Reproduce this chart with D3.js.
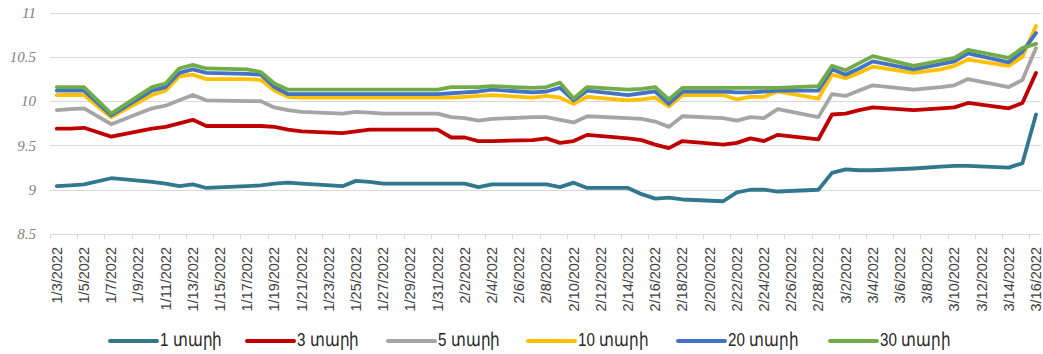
<!DOCTYPE html>
<html>
<head>
<meta charset="utf-8">
<script src="https://cdn.jsdelivr.net/npm/d3@7"></script>
<style>
    body { margin: 0; background: #fff; }
    #chart { width: 1043px; height: 354px; }
</style>
</head>
<body>
<div id="chart"></div>
<script>

// trading days (m/d, 2022)
const dates = ['1/3','1/4','1/5','1/7','1/10','1/11','1/12','1/13','1/14','1/17','1/18','1/19','1/20','1/21',
    '1/24','1/25','1/26','1/27','1/28','1/31','2/1','2/2','2/3','2/4','2/7','2/8','2/9','2/10','2/11',
    '2/14','2/15','2/16','2/17','2/18','2/21','2/22','2/23','2/24','2/25','2/28','3/1','3/2','3/3','3/4',
    '3/7','3/9','3/10','3/11','3/14','3/15','3/16'];

const y1 = [9.04,9.05,9.06,9.13,9.09,9.07,9.04,9.06,9.02,9.04,9.05,9.07,9.08,9.07,
    9.04,9.10,9.09,9.07,9.07,9.07,9.07,9.07,9.03,9.06,9.06,9.06,9.03,9.08,9.02,
    9.02,8.95,8.90,8.91,8.89,8.87,8.97,9.00,9.00,8.98,9.00,9.19,9.23,9.22,9.22,
    9.24,9.26,9.27,9.27,9.25,9.30,9.85];

const y3 = [9.69,9.69,9.70,9.60,9.69,9.71,9.75,9.79,9.72,9.72,9.72,9.71,9.68,9.66,
    9.64,9.66,9.68,9.68,9.68,9.68,9.59,9.59,9.55,9.55,9.56,9.58,9.53,9.55,9.62,
    9.58,9.56,9.51,9.47,9.55,9.51,9.53,9.58,9.55,9.62,9.57,9.85,9.86,9.90,9.93,
    9.90,9.92,9.93,9.98,9.92,9.98,10.32];

const y5 = [9.90,9.91,9.92,9.74,9.92,9.95,10.01,10.07,10.01,10.00,10.00,9.93,9.90,9.88,
    9.86,9.88,9.87,9.86,9.86,9.86,9.82,9.81,9.78,9.80,9.82,9.82,9.79,9.76,9.83,
    9.81,9.80,9.77,9.71,9.83,9.81,9.78,9.82,9.81,9.91,9.82,10.08,10.06,10.12,10.18,
    10.13,10.16,10.18,10.25,10.16,10.24,10.60];

const y10 = [10.07,10.07,10.07,9.82,10.07,10.12,10.28,10.30,10.25,10.25,10.24,10.12,10.05,10.04,
    10.04,10.04,10.04,10.04,10.04,10.04,10.04,10.05,10.06,10.07,10.04,10.06,10.04,9.97,10.05,
    10.01,10.02,10.04,9.94,10.07,10.07,10.02,10.05,10.05,10.11,10.03,10.30,10.26,10.32,10.39,
    10.32,10.36,10.40,10.47,10.40,10.50,10.85];

const y20 = [10.12,10.12,10.12,9.84,10.12,10.16,10.32,10.36,10.32,10.31,10.30,10.16,10.08,10.08,
    10.08,10.08,10.08,10.08,10.08,10.08,10.09,10.10,10.11,10.13,10.10,10.11,10.15,10.01,10.12,
    10.07,10.09,10.11,9.97,10.11,10.11,10.10,10.10,10.11,10.12,10.12,10.36,10.30,10.37,10.45,
    10.36,10.42,10.45,10.54,10.44,10.56,10.77];

const y30 = [10.16,10.16,10.16,9.86,10.16,10.20,10.37,10.41,10.37,10.36,10.33,10.20,10.13,10.13,
    10.13,10.13,10.13,10.13,10.13,10.13,10.16,10.16,10.16,10.17,10.15,10.16,10.21,10.03,10.16,
    10.13,10.14,10.16,10.02,10.15,10.15,10.15,10.15,10.15,10.15,10.17,10.40,10.35,10.43,10.51,
    10.40,10.46,10.49,10.58,10.49,10.60,10.65];

const seriesNames = ['1 տարի', '3 տարի', '5 տարի', '10 տարի', '20 տարի', '30 տարի'];
const seriesValues = [y1, y3, y5, y10, y20, y30];
const seriesColors = ['#31788f', '#c00000', '#a5a5a5', '#ffc000', '#4472c4', '#70ad47'];

const yTicks = [8.5, 9, 9.5, 10, 10.5, 11];

const DAY = 864e5;
const parseDay = s => {
    let [m, d] = s.split('/').map(Number);
    return new Date(Date.UTC(2022, m - 1, d));
};

let width = 1043, height = 354;

let svg = d3.select('#chart').append('svg')
    .attr('width', width)
    .attr('height', height);

// date axis: one slot per day, 1/3 .. 3/16
let start = parseDay('1/3'), end = parseDay('3/16');
let x = d3.scaleUtc()
    .domain([new Date(+start - DAY / 2), new Date(+end + DAY / 2)])
    .range([50, 1042.8]);

let y = d3.scaleLinear()
    .domain([8.5, 11])
    .range([234, 12.7]);

// gridlines
svg.append('g')
    .selectAll('line')
    .data(yTicks)
    .enter()
    .append('line')
    .attr('x1', 50)
    .attr('x2', 1041)
    .attr('y1', d => Math.round(y(d)) + 0.5)
    .attr('y2', d => Math.round(y(d)) + 0.5)
    .attr('stroke', '#d9d9d9')
    .attr('stroke-width', 1);

// y labels
svg.append('g')
    .selectAll('text')
    .data(yTicks)
    .enter()
    .append('text')
    .attr('x', 36)
    .attr('y', d => y(d))
    .attr('dy', '0.35em')
    .attr('text-anchor', 'end')
    .attr('font-family', 'Liberation Serif, serif')
    .attr('font-style', 'italic')
    .attr('font-size', 15)
    .attr('fill', '#7f7f7f')
    .text(d => d);

// x ticks every 2 days on slot boundaries
let tickDates = d3.range(0, 37).map(i => new Date(+start - DAY / 2 + i * 2 * DAY));
svg.append('g')
    .selectAll('line')
    .data(tickDates)
    .enter()
    .append('line')
    .attr('x1', d => Math.round(x(d)) + 0.5)
    .attr('x2', d => Math.round(x(d)) + 0.5)
    .attr('y1', Math.round(y(8.5)))
    .attr('y2', Math.round(y(8.5)) + 5)
    .attr('stroke', '#d9d9d9');

// x labels
let labelDates = d3.range(0, 37).map(i => new Date(+start + i * 2 * DAY));
let fmt = d3.utcFormat('%-m/%-d/%Y');
svg.append('g')
    .selectAll('text')
    .data(labelDates)
    .enter()
    .append('text')
    .attr('transform', d => `translate(${x(d)},247) rotate(-90)`)
    .attr('dy', '0.35em')
    .attr('text-anchor', 'end')
    .attr('font-family', 'Liberation Sans, Arial, sans-serif')
    .attr('font-size', 14.5)
    .attr('fill', '#404040')
    .text(d => fmt(d));

// lines
let line = d3.line()
    .x((d, i) => x(parseDay(dates[i])))
    .y(d => y(d));

svg.append('g')
    .selectAll('path')
    .data(seriesValues)
    .enter()
    .append('path')
    .attr('d', d => line(d))
    .attr('fill', 'none')
    .attr('stroke', (d, i) => seriesColors[i])
    .attr('stroke-width', 3.8)
    .attr('stroke-linejoin', 'round')
    .attr('stroke-linecap', 'round');

// legend
let legendX = [110, 247, 388, 528, 678, 830];
let legend = svg.append('g')
    .selectAll('g')
    .data(seriesNames)
    .enter()
    .append('g')
    .attr('transform', (d, i) => `translate(${legendX[i]},341)`);

legend.append('line')
    .attr('x1', 0)
    .attr('x2', 47)
    .attr('stroke', (d, i) => seriesColors[i])
    .attr('stroke-width', 4)
    .attr('stroke-linecap', 'round');

// legend text is narrow in the original
legend.append('text')
    .attr('transform', 'translate(50,5) scale(0.8,1)')
    .attr('font-family', 'Liberation Sans, Arial, sans-serif')
    .attr('font-size', 19)
    .attr('fill', '#262626')
    .text(d => d);

</script>
</body>
</html>
